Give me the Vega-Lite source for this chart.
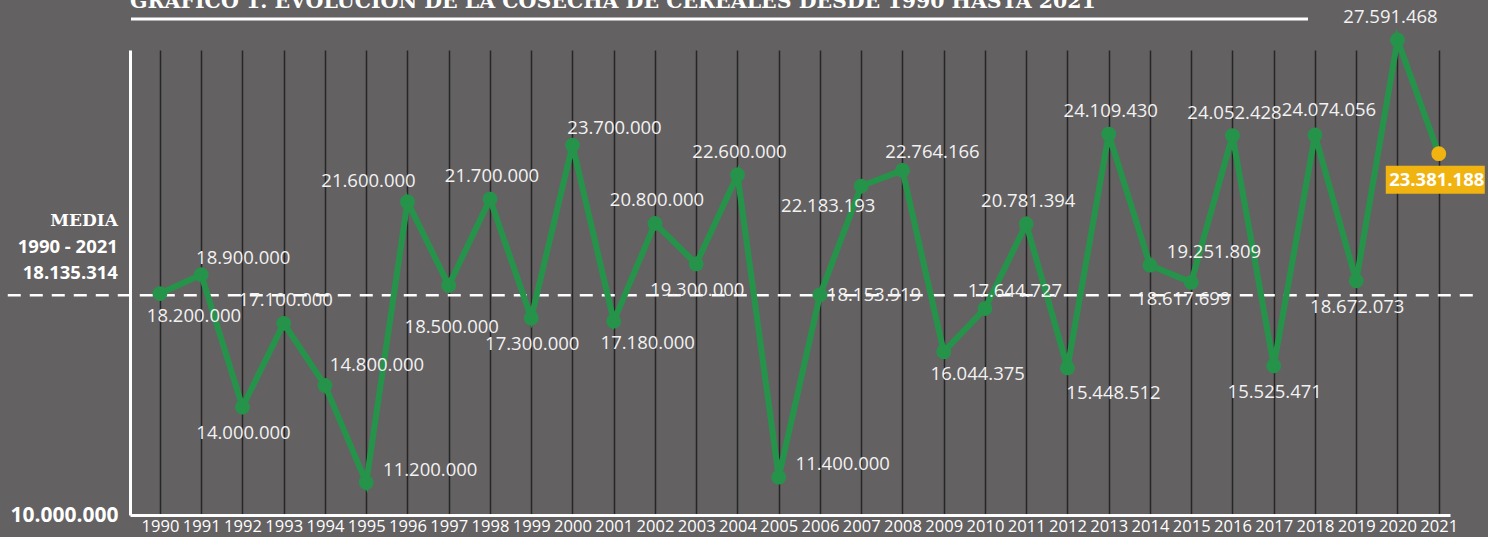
{
  "$schema": "https://vega.github.io/schema/vega-lite/v6.json",
  "width": 1320,
  "height": 465,
  "autosize": {"type": "none"},
  "padding": {"left": 130, "top": 50, "right": 38, "bottom": 22},
  "background": "#646162",
  "config": {
    "view": {"stroke": null},
    "font": "Open Sans",
    "locale": {"number": {"decimal": ",", "thousands": ".", "grouping": [3], "currency": ["", " €"]}}
  },
  "title": {
    "text": "GRÁFICO 1. EVOLUCIÓN DE LA COSECHA DE CEREALES DESDE 1990 HASTA 2021",
    "anchor": "start",
    "frame": "group",
    "font": "DejaVu Serif",
    "fontSize": 20.5,
    "fontWeight": "bold",
    "color": "#ffffff",
    "baseline": "alphabetic",
    "offset": 0,
    "dy": 20
  },
  "data": {
    "values": [
      {"year": 1990, "value": 18200000},
      {"year": 1991, "value": 18900000},
      {"year": 1992, "value": 14000000},
      {"year": 1993, "value": 17100000},
      {"year": 1994, "value": 14800000},
      {"year": 1995, "value": 11200000},
      {"year": 1996, "value": 21600000},
      {"year": 1997, "value": 18500000},
      {"year": 1998, "value": 21700000},
      {"year": 1999, "value": 17300000},
      {"year": 2000, "value": 23700000},
      {"year": 2001, "value": 17180000},
      {"year": 2002, "value": 20800000},
      {"year": 2003, "value": 19300000},
      {"year": 2004, "value": 22600000},
      {"year": 2005, "value": 11400000},
      {"year": 2006, "value": 18153919},
      {"year": 2007, "value": 22183193},
      {"year": 2008, "value": 22764166},
      {"year": 2009, "value": 16044375},
      {"year": 2010, "value": 17644727},
      {"year": 2011, "value": 20781394},
      {"year": 2012, "value": 15448512},
      {"year": 2013, "value": 24109430},
      {"year": 2014, "value": 19251809},
      {"year": 2015, "value": 18617699},
      {"year": 2016, "value": 24052428},
      {"year": 2017, "value": 15525471},
      {"year": 2018, "value": 24074056},
      {"year": 2019, "value": 18672073},
      {"year": 2020, "value": 27591468},
      {"year": 2021, "value": 23381188}
    ]
  },
  "layer": [
    {
      "data": {"values": [{}]},
      "mark": {"type": "rule", "color": "#ffffff", "strokeWidth": 2.5, "strokeDash": [13, 9]},
      "encoding": {
        "x": {"datum": 1986.31, "type": "quantitative", "scale": {"domain": [1989.273, 2021.273], "nice": false, "zero": false}},
        "x2": {"datum": 2022.0},
        "y": {"datum": 18135314, "type": "quantitative", "scale": {"domain": [10000000, 27222222], "nice": false, "zero": false}}
      }
    },
    {
      "data": {"values": [{}]},
      "mark": {"type": "rule", "color": "#ffffff", "strokeWidth": 3},
      "encoding": {
        "x": {"datum": 1989.297, "type": "quantitative"},
        "x2": {"datum": 2017.83},
        "y": {"datum": 28370370, "type": "quantitative"}
      }
    },
    {
      "data": {"values": [{}]},
      "mark": {"type": "text", "align": "right", "baseline": "middle", "font": "DejaVu Serif", "fontWeight": "bold", "fontSize": 17, "color": "#ffffff", "dy": -74},
      "encoding": {
        "x": {"datum": 1988.98, "type": "quantitative"},
        "y": {"datum": 18135314, "type": "quantitative"},
        "text": {"value": "MEDIA"}
      }
    },
    {
      "data": {"values": [{}]},
      "mark": {"type": "text", "align": "right", "baseline": "middle", "fontWeight": "bold", "fontSize": 18.5, "color": "#ffffff", "dy": -48},
      "encoding": {
        "x": {"datum": 1988.98, "type": "quantitative"},
        "y": {"datum": 18135314, "type": "quantitative"},
        "text": {"value": "1990 - 2021"}
      }
    },
    {
      "data": {"values": [{}]},
      "mark": {"type": "text", "align": "right", "baseline": "middle", "fontWeight": "bold", "fontSize": 18.5, "color": "#ffffff", "dy": -22},
      "encoding": {
        "x": {"datum": 1988.98, "type": "quantitative"},
        "y": {"datum": 18135314, "type": "quantitative"},
        "text": {"value": "18.135.314"}
      }
    },
    {
      "mark": {"type": "line", "color": "#25944a", "strokeWidth": 6},
      "encoding": {
        "x": {
          "field": "year", "type": "quantitative",
          "axis": {
            "values": [1990,1991,1992,1993,1994,1995,1996,1997,1998,1999,2000,2001,2002,2003,2004,2005,2006,2007,2008,2009,2010,2011,2012,2013,2014,2015,2016,2017,2018,2019,2020,2021],
            "format": "d", "title": null, "grid": true, "gridColor": "#262626", "gridWidth": 1.5,
            "ticks": false, "domainColor": "#ffffff", "domainWidth": 3,
            "labelColor": "#ffffff", "labelFont": "Open Sans", "labelFontSize": 16.5, "labelPadding": 3,
            "labelFlush": false, "labelOverlap": false
          }
        },
        "y": {
          "field": "value", "type": "quantitative",
          "axis": {
            "values": [10000000], "format": ",d", "title": null, "grid": false, "ticks": false,
            "domainColor": "#ffffff", "domainWidth": 3,
            "labelColor": "#ffffff", "labelFont": "Open Sans", "labelFontSize": 21, "labelFontWeight": "bold",
            "labelPadding": 12, "labelBaseline": "middle"
          }
        }
      }
    },
    {
      "mark": {"type": "point", "filled": true, "opacity": 1, "size": 220},
      "encoding": {
        "x": {"field": "year", "type": "quantitative"},
        "y": {"field": "value", "type": "quantitative"},
        "color": {"condition": {"test": "datum.year === 2021", "value": "#f0b310"}, "value": "#25944a"}
      }
    },
    {
      "transform": [{"filter": "datum.year === 2021"}],
      "mark": {"type": "point", "shape": "M-1.07,0.242L0.93,0.242L0.93,0.808L-1.07,0.808Z", "size": 9801, "filled": true, "opacity": 1, "color": "#f0b310", "strokeWidth": 0},
      "encoding": {
        "x": {"field": "year", "type": "quantitative"},
        "y": {"field": "value", "type": "quantitative"}
      }
    },
    {
      "transform": [{"filter": "datum.year === 2021"}],
      "mark": {"type": "text", "fontSize": 18.5, "fontWeight": "bold", "color": "#ffffff", "dx": -2, "dy": 26},
      "encoding": {"x": {"field": "year", "type": "quantitative"}, "y": {"field": "value", "type": "quantitative"}, "text": {"field": "value", "type": "quantitative", "format": ",d"}}
    },
    {
      "transform": [{"filter": {"field": "year", "oneOf": [1993, 1998, 2002, 2004, 2011, 2013, 2016]}}],
      "mark": {"type": "text", "fontSize": 18.5, "color": "#f2f2f2", "dx": 2, "dy": -23},
      "encoding": {"x": {"field": "year", "type": "quantitative"}, "y": {"field": "value", "type": "quantitative"}, "text": {"field": "value", "type": "quantitative", "format": ",d"}}
    },
    {
      "transform": [{"filter": {"field": "year", "oneOf": [2018]}}],
      "mark": {"type": "text", "fontSize": 18.5, "color": "#f2f2f2", "dx": 14, "dy": -25},
      "encoding": {"x": {"field": "year", "type": "quantitative"}, "y": {"field": "value", "type": "quantitative"}, "text": {"field": "value", "type": "quantitative", "format": ",d"}}
    },
    {
      "transform": [{"filter": {"field": "year", "oneOf": [2020]}}],
      "mark": {"type": "text", "fontSize": 18.5, "color": "#f2f2f2", "dx": -7, "dy": -23},
      "encoding": {"x": {"field": "year", "type": "quantitative"}, "y": {"field": "value", "type": "quantitative"}, "text": {"field": "value", "type": "quantitative", "format": ",d"}}
    },
    {
      "transform": [{"filter": {"field": "year", "oneOf": [1992, 1999, 2003, 2017, 2019]}}],
      "mark": {"type": "text", "fontSize": 18.5, "color": "#f2f2f2", "dx": 1, "dy": 26},
      "encoding": {"x": {"field": "year", "type": "quantitative"}, "y": {"field": "value", "type": "quantitative"}, "text": {"field": "value", "type": "quantitative", "format": ",d"}}
    },
    {
      "transform": [{"filter": {"field": "year", "oneOf": [1997]}}],
      "mark": {"type": "text", "fontSize": 18.5, "color": "#f2f2f2", "dx": 3, "dy": 41},
      "encoding": {"x": {"field": "year", "type": "quantitative"}, "y": {"field": "value", "type": "quantitative"}, "text": {"field": "value", "type": "quantitative", "format": ",d"}}
    },
    {
      "transform": [{"filter": {"field": "year", "oneOf": [2015]}}],
      "mark": {"type": "text", "fontSize": 18.5, "color": "#f2f2f2", "dx": -8, "dy": 17},
      "encoding": {"x": {"field": "year", "type": "quantitative"}, "y": {"field": "value", "type": "quantitative"}, "text": {"field": "value", "type": "quantitative", "format": ",d"}}
    },
    {
      "transform": [{"filter": {"field": "year", "oneOf": [1991, 2000]}}],
      "mark": {"type": "text", "fontSize": 18.5, "color": "#f2f2f2", "dx": 42, "dy": -17},
      "encoding": {"x": {"field": "year", "type": "quantitative"}, "y": {"field": "value", "type": "quantitative"}, "text": {"field": "value", "type": "quantitative", "format": ",d"}}
    },
    {
      "transform": [{"filter": {"field": "year", "oneOf": [1994]}}],
      "mark": {"type": "text", "fontSize": 18.5, "color": "#f2f2f2", "dx": 52, "dy": -20},
      "encoding": {"x": {"field": "year", "type": "quantitative"}, "y": {"field": "value", "type": "quantitative"}, "text": {"field": "value", "type": "quantitative", "format": ",d"}}
    },
    {
      "transform": [{"filter": {"field": "year", "oneOf": [2008, 2010]}}],
      "mark": {"type": "text", "fontSize": 18.5, "color": "#f2f2f2", "dx": 30, "dy": -18},
      "encoding": {"x": {"field": "year", "type": "quantitative"}, "y": {"field": "value", "type": "quantitative"}, "text": {"field": "value", "type": "quantitative", "format": ",d"}}
    },
    {
      "transform": [{"filter": {"field": "year", "oneOf": [1990, 2001, 2009]}}],
      "mark": {"type": "text", "fontSize": 18.5, "color": "#f2f2f2", "dx": 34, "dy": 22},
      "encoding": {"x": {"field": "year", "type": "quantitative"}, "y": {"field": "value", "type": "quantitative"}, "text": {"field": "value", "type": "quantitative", "format": ",d"}}
    },
    {
      "transform": [{"filter": {"field": "year", "oneOf": [2012]}}],
      "mark": {"type": "text", "fontSize": 18.5, "color": "#f2f2f2", "dx": 46, "dy": 25},
      "encoding": {"x": {"field": "year", "type": "quantitative"}, "y": {"field": "value", "type": "quantitative"}, "text": {"field": "value", "type": "quantitative", "format": ",d"}}
    },
    {
      "transform": [{"filter": {"field": "year", "oneOf": [1995, 2005, 2014]}}],
      "mark": {"type": "text", "fontSize": 18.5, "color": "#f2f2f2", "dx": 64, "dy": -13},
      "encoding": {"x": {"field": "year", "type": "quantitative"}, "y": {"field": "value", "type": "quantitative"}, "text": {"field": "value", "type": "quantitative", "format": ",d"}}
    },
    {
      "transform": [{"filter": {"field": "year", "oneOf": [2006]}}],
      "mark": {"type": "text", "fontSize": 18.5, "color": "#f2f2f2", "dx": 54, "dy": 0},
      "encoding": {"x": {"field": "year", "type": "quantitative"}, "y": {"field": "value", "type": "quantitative"}, "text": {"field": "value", "type": "quantitative", "format": ",d"}}
    },
    {
      "transform": [{"filter": {"field": "year", "oneOf": [1996]}}],
      "mark": {"type": "text", "fontSize": 18.5, "color": "#f2f2f2", "dx": -39, "dy": -21},
      "encoding": {"x": {"field": "year", "type": "quantitative"}, "y": {"field": "value", "type": "quantitative"}, "text": {"field": "value", "type": "quantitative", "format": ",d"}}
    },
    {
      "transform": [{"filter": {"field": "year", "oneOf": [2007]}}],
      "mark": {"type": "text", "fontSize": 18.5, "color": "#f2f2f2", "dx": -33, "dy": 20},
      "encoding": {"x": {"field": "year", "type": "quantitative"}, "y": {"field": "value", "type": "quantitative"}, "text": {"field": "value", "type": "quantitative", "format": ",d"}}
    }
  ]
}
